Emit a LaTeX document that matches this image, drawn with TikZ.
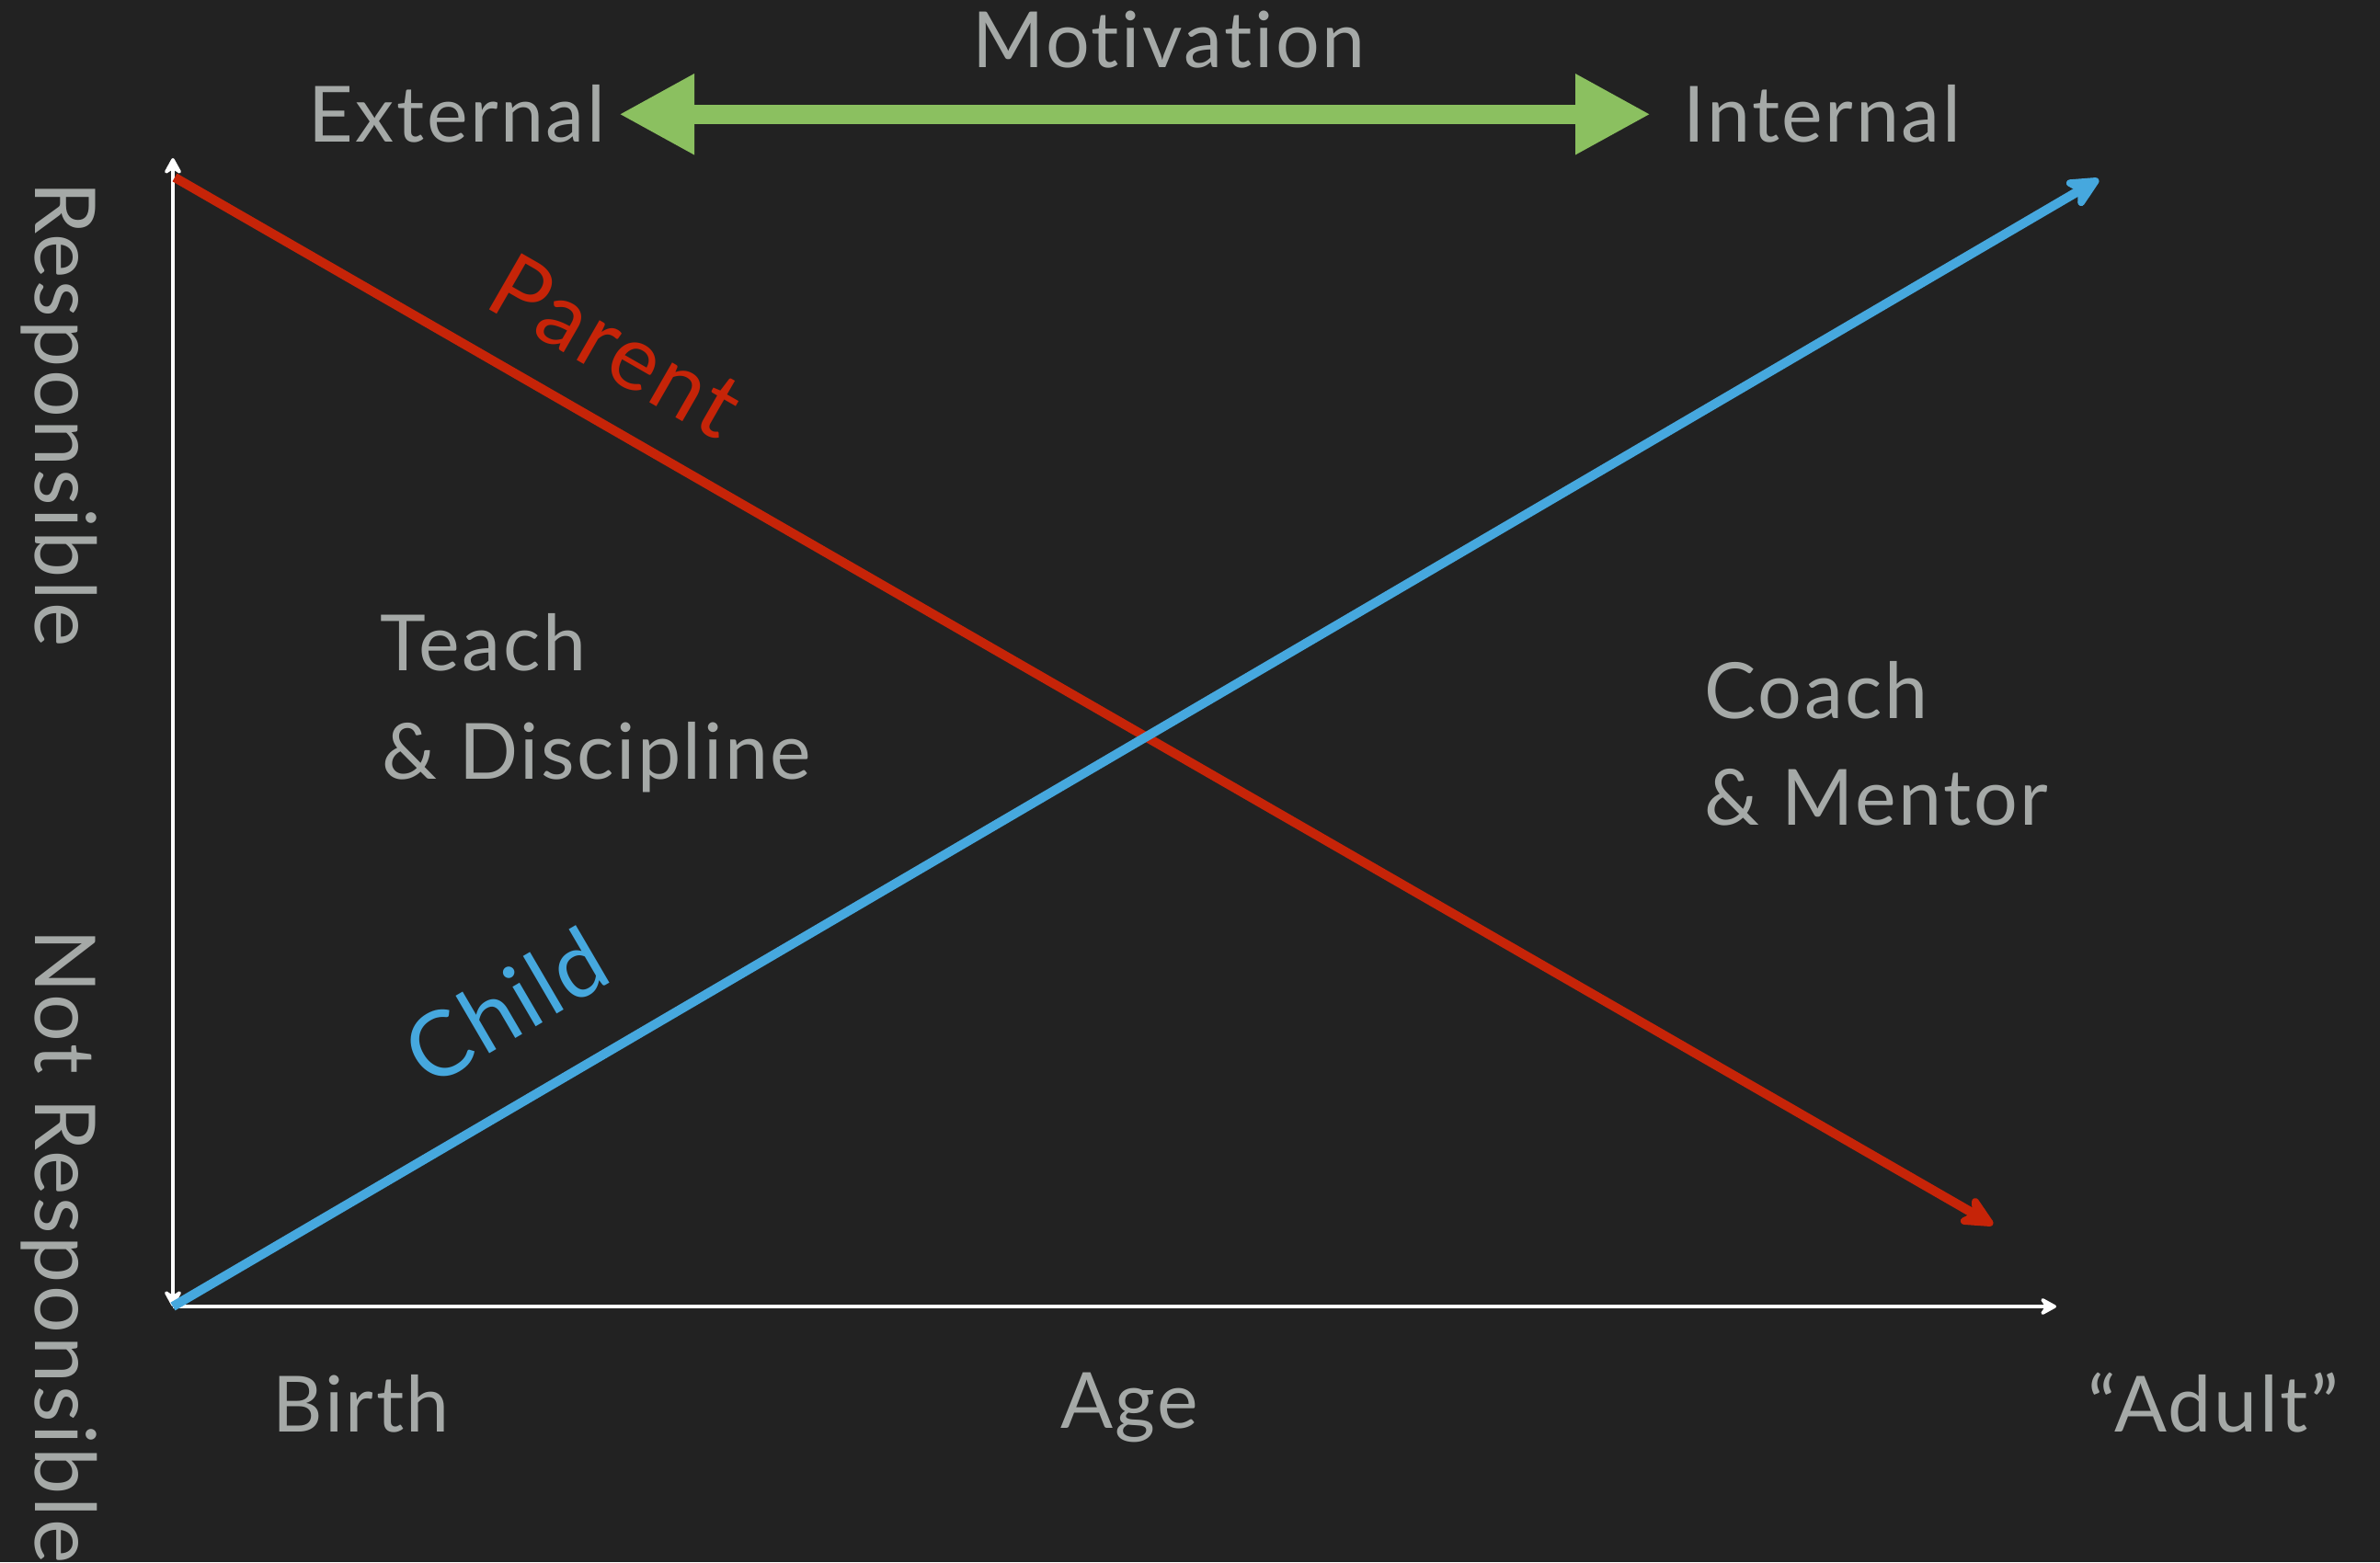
\documentclass[tikz,border=0pt]{standalone}
\usepackage{fontspec}
\setmainfont{Lato}[Ligatures={NoCommon},LetterSpace=3.0]
\usetikzlibrary{arrows.meta}
\definecolor{bgdark}{RGB}{34,34,34}
\definecolor{txtgray}{RGB}{165,169,167}
\definecolor{parentred}{RGB}{198,36,8}
\definecolor{childblue}{RGB}{70,168,222}
\definecolor{motivgreen}{RGB}{139,192,96}
\begin{document}
\begin{tikzpicture}[x=1cm,y=1cm,
		lbl/.style={text=txtgray,inner sep=0pt,font=\fontsize{24}{28}\selectfont},
		sidelbl/.style={lbl,font=\fontsize{26}{30}\selectfont,rotate=-90,anchor=base west},
		lineword/.style={inner sep=0pt,font=\fontsize{28}{32}\selectfont},
		axis/.style={white,line width=1.3pt,>={Stealth[length=2.2mm,width=2.4mm,inset=0.8mm,round]}},
		trend/.style={line width=2.85pt,->,>={Stealth[length=4.4mm,width=4.2mm,inset=1.3mm,round]}},
		motiv/.style={motivgreen,line width=0.21cm,{Triangle[length=0.82cm,width=0.82cm]}-{Triangle[length=0.82cm,width=0.82cm]}}]
	\fill[bgdark] (0,0) rectangle (25.88,16.99);
	\clip (0,0) rectangle (25.88,16.99);
	\coordinate (O) at (1.88,2.78);
	\coordinate (T) at (1.88,15.27);
	\coordinate (X) at (22.36,2.78);
	\coordinate (P0) at (1.90,15.06);
	\coordinate (P1) at (21.67,3.67);
	\coordinate (C1) at (22.82,15.04);
	% motivation scale
	\node[lbl,anchor=base] (motivation) at (12.71,16.25) {Motivation};
	\node[lbl,anchor=base east] (external) at (6.59,15.44) {External};
	\node[lbl,anchor=base west] (internal) at (18.30,15.44) {Internal};
	\draw[motiv] ([xshift=1.4mm]external.east) -- ([xshift=-3.5mm]internal.west);
	% axes
	\draw[axis,<->] (O) -- (T);
	\draw[axis,->] (O) -- (X);
	\node[sidelbl] (resp) at (0.38,15.02) {Responsible};
	\node[sidelbl] (notresp) at (0.38,6.89) {Not Responsible};
	\node[lbl,anchor=base] (birth) at (3.93,1.42) {Birth};
	\node[lbl,anchor=base] (age) at (12.28,1.46) {Age};
	\node[lbl,anchor=base] (adult) at (24.07,1.42) {“Adult”};
	% parent and child lines
	\draw[trend,parentred] (P0) -- (P1);
	\draw[trend,childblue] (O) -- (C1);
	\node[lineword,text=parentred,rotate=-29.9] (parent) at (6.70,13.23) {Parent};
	\node[lineword,text=childblue,rotate=30.3] (child) at (5.50,6.05) {Child};
	% regions
	\node[lbl,anchor=base west] (teach) at (4.13,9.69) {Teach};
	\node[lbl,anchor=base west] (discipline) at (4.15,8.51) {\& Discipline};
	\node[lbl,anchor=base west] (coach) at (18.53,9.17) {Coach};
	\node[lbl,anchor=base west] (mentor) at (18.53,8.01) {\& Mentor};
\end{tikzpicture}
\end{document}
